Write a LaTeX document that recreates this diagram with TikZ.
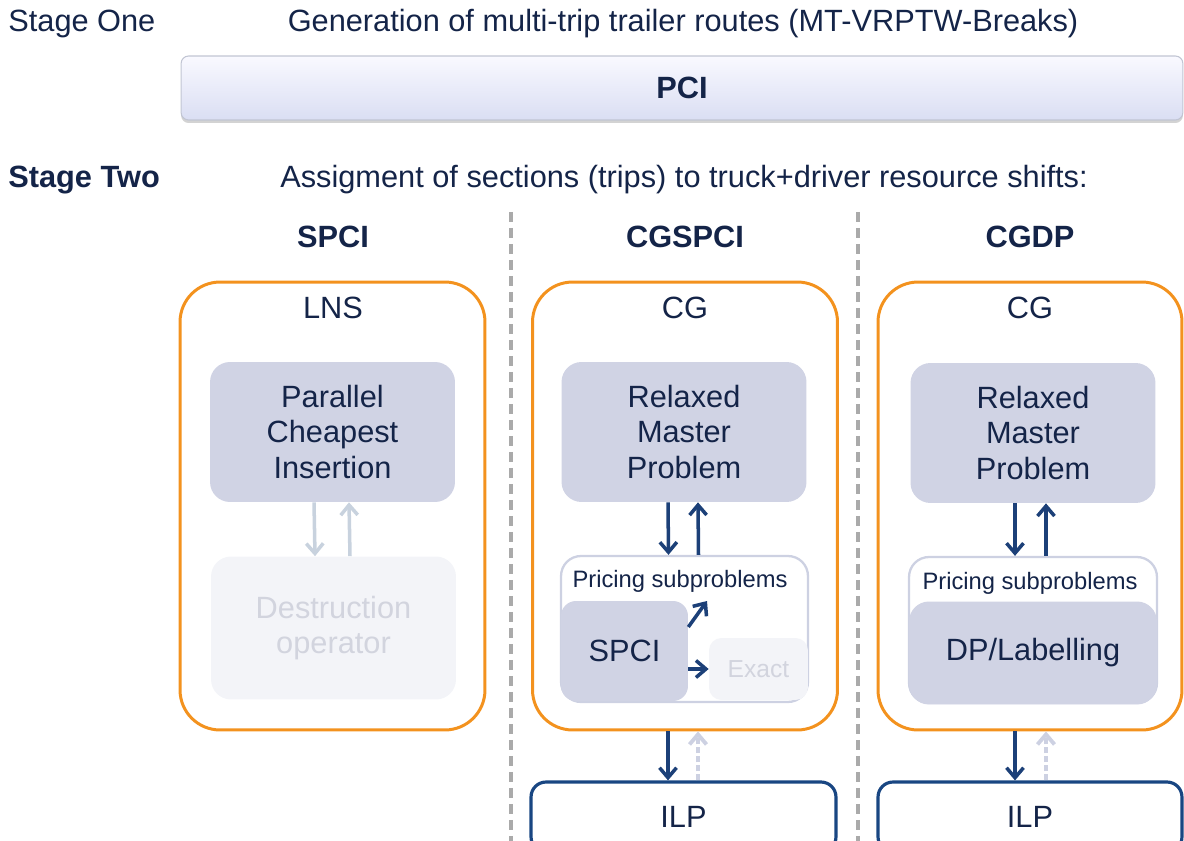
\documentclass[tikz,border=0pt]{standalone}
\usepackage{fontspec}
\setmainfont{Liberation Sans}
\usetikzlibrary{arrows.meta,shadows}
\definecolor{navy}{RGB}{20,36,72}
\definecolor{arrblue}{RGB}{28,64,120}
\definecolor{orng}{RGB}{243,146,30}
\definecolor{boxfill}{RGB}{208,211,228}
\definecolor{palefill}{RGB}{243,244,248}
\definecolor{paletext}{RGB}{210,212,222}
\definecolor{palearr}{RGB}{200,210,222}
\definecolor{lavline}{RGB}{205,209,226}
\definecolor{ilpline}{RGB}{25,70,130}
\definecolor{sepgray}{RGB}{170,170,170}
\definecolor{pcitop}{RGB}{249,249,255}
\definecolor{pcibot}{RGB}{218,222,243}
\begin{document}
\begin{tikzpicture}[x=0.02cm, y=-0.02cm,
  >={Straight Barb[length=0.2cm,width=0.34cm]},
  every node/.style={font=\fontsize{17.5}{20.4}\selectfont, text=navy, align=center},
  head/.style={font=\fontsize{17.5}{20.4}\selectfont\bfseries},
  small/.style={font=\fontsize{13.5}{16}\selectfont},
  outer/.style={draw=orng, line width=1.7pt, rounded corners=0.8cm, minimum width=6.1cm, minimum height=8.96cm},
  inner/.style={fill=boxfill, rounded corners=0.4cm, minimum width=4.9cm, minimum height=2.8cm},
  faded/.style={fill=palefill, text=paletext, rounded corners=0.4cm},
  pricing/.style={draw=lavline, fill=white, line width=1.3pt, rounded corners=0.4cm, minimum width=4.94cm, minimum height=2.92cm},
  ilpbox/.style={draw=ilpline, line width=1.8pt, rounded corners=0.3cm, minimum width=6.1cm, minimum height=1.4cm, text depth=0pt},
  flow/.style={->, draw=arrblue, line width=2pt},
  paleflow/.style={->, draw=palearr, line width=2pt},
  back/.style={->, draw=lavline, line width=2.2pt, dash pattern=on 0.12cm off 0.06cm},
  sep/.style={draw=sepgray, line width=2.2pt, dash pattern=on 0.2cm off 0.12cm}]
\useasboundingbox (0,0) rectangle (1184,841);

% stage one
\node[anchor=west, inner sep=0pt] (st1) at (8,24) {Stage One};
\node (st1txt) at (683,24) {Generation of multi-trip trailer routes (MT-VRPTW-Breaks)};
\node[draw=lavline!85!gray, line width=0.6pt, rounded corners=0.15cm, top color=pcitop, bottom color=pcibot,
  drop shadow={shadow xshift=0pt, shadow yshift=-0.06cm, opacity=0.35},
  minimum width=20.04cm, minimum height=1.28cm, head] (pci) at (682,88) {PCI};

% stage two
\node[anchor=west, inner sep=0pt, head] (st2) at (8,180) {Stage Two};
\node (st2txt) at (684,180) {Assigment of sections (trips) to truck+driver resource shifts:};
\draw[sep] (511,212) -- (511,841);
\draw[sep] (858,212) -- (858,841);

\node[head] (hspci) at (333,237) {SPCI};
\node[head] (hcgspci) at (685,237) {CGSPCI};
\node[head] (hcgdp) at (1030,237) {CGDP};

% SPCI column
\node[outer] (lns) at (332.5,506) {};
\node (lnslbl) at (333,308) {LNS};
\node[inner] (pcins) at (332.5,432) {Parallel\\Cheapest\\Insertion};
\node[faded, minimum width=4.9cm, minimum height=2.86cm] (destr) at (333.5,628) {Destruction\\operator};
\draw[paleflow] ([xshift=-0.37cm]pcins.south) -- ([xshift=-0.37cm]destr.north);
\draw[paleflow] ([xshift=0.33cm]destr.north) -- ([xshift=0.33cm]pcins.south);

% CGSPCI column
\node[outer] (cga) at (685,506) {};
\node (cgalbl) at (685,308) {CG};
\node[inner] (rmpa) at (684,432) {Relaxed\\Master\\Problem};
\node[pricing] (pricea) at (684.5,629) {};
\node[small] (pricealbl) at (680,581) {Pricing subproblems};
\node[fill=boxfill, rounded corners=0.3cm, minimum width=2.54cm, minimum height=2cm] (spci) at (624.5,651) {SPCI};
\node[faded, font=\fontsize{14}{16}\selectfont, minimum width=1.98cm, minimum height=1.24cm, rounded corners=0.25cm] (exact) at (758.5,669) {Exact};
\coordinate (heur) at (707,601);
\draw[flow] ([xshift=-0.32cm]rmpa.south) -- ([xshift=-0.32cm]pricea.north);
\draw[flow] ([xshift=0.28cm]pricea.north) -- ([xshift=0.28cm]rmpa.south);
\draw[flow] ([yshift=0.48cm]spci.east) -- (heur);
\draw[flow] (spci.east |- exact.west) -- (exact.west);
\node[ilpbox] (ilpa) at (683.5,817) {ILP};
\draw[flow] ([xshift=-0.34cm]cga.south) -- ([xshift=-0.34cm]cga.south |- ilpa.north);
\draw[back] ([xshift=0.26cm]cga.south |- ilpa.north) -- ([xshift=0.26cm]cga.south);

% CGDP column
\node[outer, minimum width=6.08cm] (cgb) at (1030,506) {};
\node (cgblbl) at (1030,308) {CG};
\node[inner] (rmpb) at (1033,433) {Relaxed\\Master\\Problem};
\node[pricing, minimum width=4.96cm] (priceb) at (1033,630) {};
\node[small] (priceblbl) at (1030,583) {Pricing subproblems};
\node[fill=boxfill, rounded corners=0.4cm, minimum width=4.96cm, minimum height=2.06cm] (dplab) at (1033,653) {DP/Labelling};
\draw[flow] ([xshift=-0.36cm]rmpb.south) -- ([xshift=-0.36cm]priceb.north);
\draw[flow] ([xshift=0.26cm]priceb.north) -- ([xshift=0.26cm]rmpb.south);
\node[ilpbox, minimum width=6.08cm] (ilpb) at (1030,817) {ILP};
\draw[flow] ([xshift=-0.3cm]cgb.south) -- ([xshift=-0.3cm]cgb.south |- ilpb.north);
\draw[back] ([xshift=0.32cm]cgb.south |- ilpb.north) -- ([xshift=0.32cm]cgb.south);
\end{tikzpicture}
\end{document}
